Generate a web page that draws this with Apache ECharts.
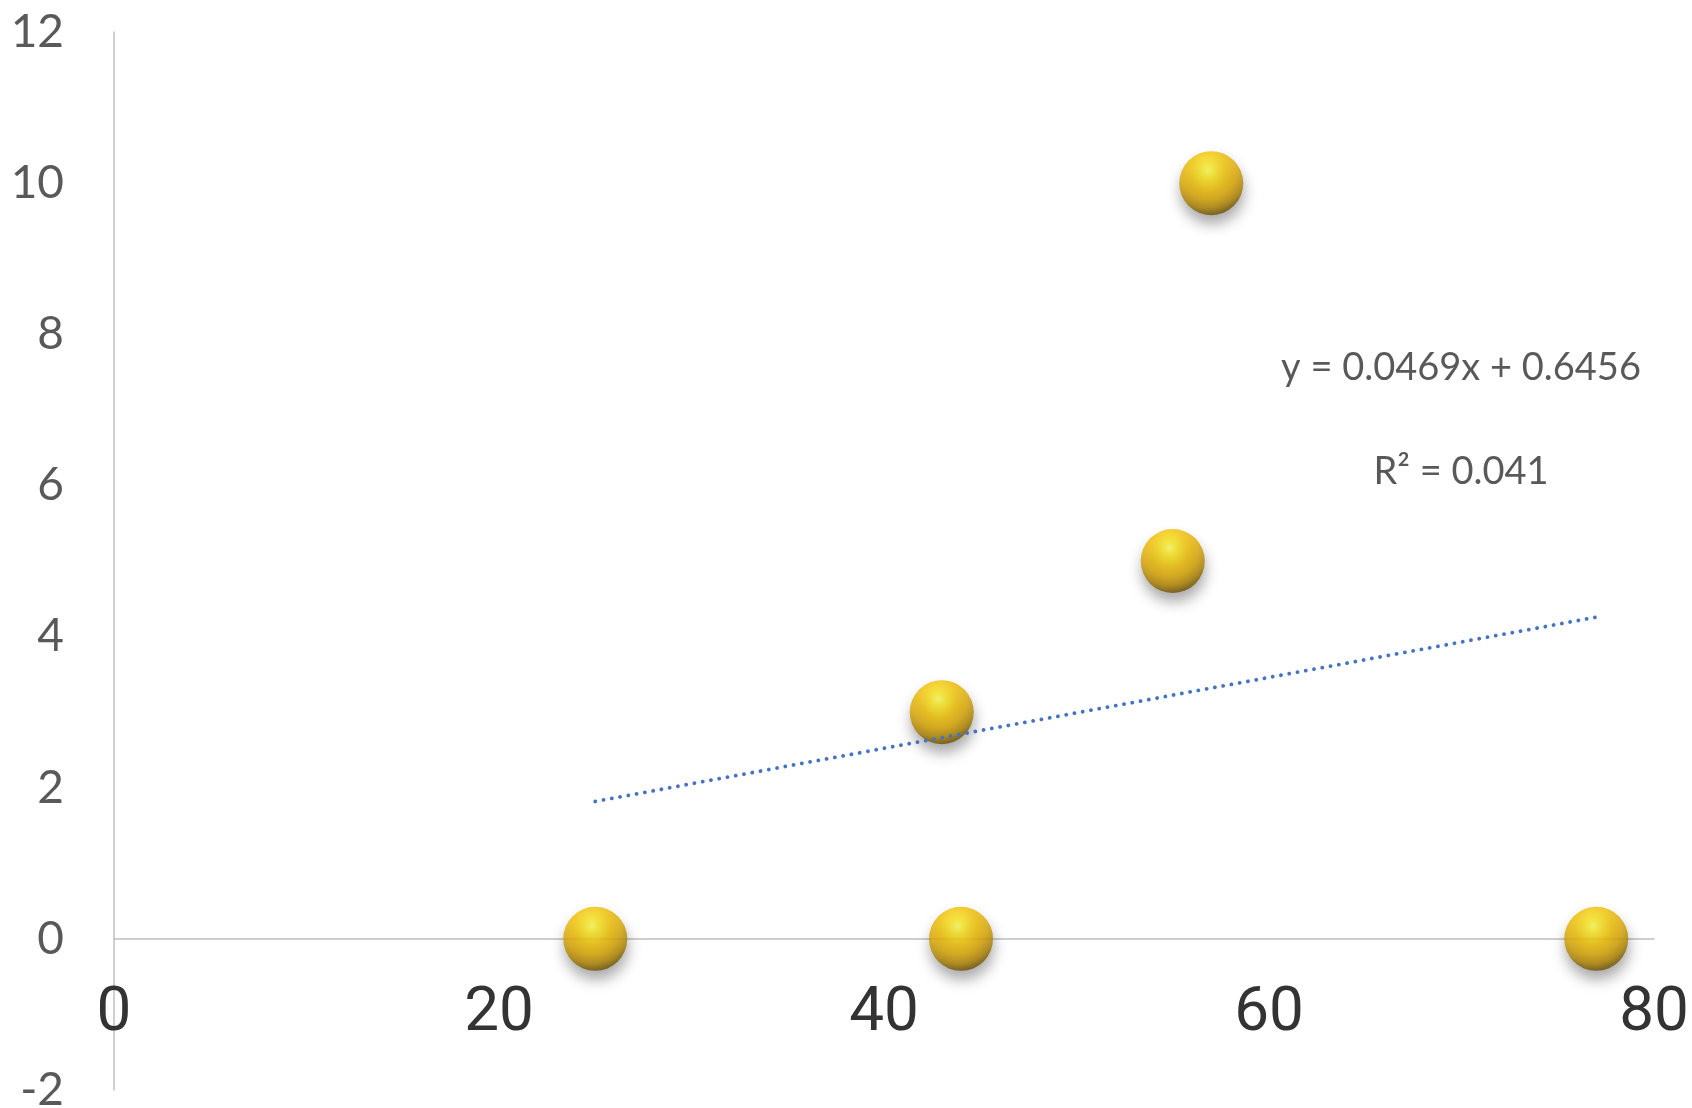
<!DOCTYPE html>
<html>
<head>
<meta charset="utf-8">
<script src="https://cdn.jsdelivr.net/npm/echarts@6/dist/echarts.min.js"></script>
<style>
  html, body { margin: 0; padding: 0; background: #ffffff; }
  #chart { width: 1692px; height: 1108px; }
</style>
</head>
<body>
<div id="chart"></div>
<script>
// Observations
const xValues = [25, 44, 77, 43, 55, 57];
const yValues = [0, 0, 0, 3, 5, 10];

// Linear trend fit shown beside the points
const trendSlope = 0.0469;
const trendIntercept = 0.6456;
const trendR2 = 0.041;

// Axis ranges: [min, max, interval]
const xAxisRange = [0, 80, 20];
const yAxisRange = [-2, 12, 2];

const points = xValues.map((x, i) => [x, yValues[i]]);
const xMin = Math.min(...xValues);
const xMax = Math.max(...xValues);
const trendLine = [xMin, xMax].map(x => [x, trendSlope * x + trendIntercept]);

// Plot area layout
const W = 1692, H = 1108;
const gridBox = { left: 114, right: 38, top: 32, bottom: 18 };
const plotHeight = H - gridBox.top - gridBox.bottom;
// The horizontal axis sits at y = 0, so lift it from the bottom edge accordingly
const xAxisLift = plotHeight * (0 - yAxisRange[0]) / (yAxisRange[1] - yAxisRange[0]);

// Glossy gold sphere shading
const ballFill = {
  type: 'radial', x: 0.45, y: 0.3, r: 0.75,
  colorStops: [
    { offset: 0.0, color: '#ffff62' },
    { offset: 0.12, color: '#ffee22' },
    { offset: 0.38, color: '#f2c200' },
    { offset: 0.6, color: '#dca700' },
    { offset: 0.78, color: '#b08400' },
    { offset: 0.92, color: '#705200' },
    { offset: 1.0, color: '#4a3600' }
  ]
};

const chart = echarts.init(document.getElementById('chart'), null, { renderer: 'canvas' });

chart.setOption({
  backgroundColor: '#ffffff',
  animation: false,
  grid: Object.assign({ containLabel: false, outerBoundsMode: 'none' }, gridBox),
  xAxis: {
    type: 'value',
    position: 'bottom',
    offset: -xAxisLift,
    min: xAxisRange[0], max: xAxisRange[1], interval: xAxisRange[2],
    axisLine: { show: true, onZero: false, lineStyle: { color: '#bfbfbf', width: 1.5 } },
    axisTick: { show: false },
    splitLine: { show: false },
    axisLabel: {
      color: '#333333', fontFamily: 'Roboto', fontSize: 62, margin: 45,
      showMinLabel: true, showMaxLabel: true
    }
  },
  yAxis: {
    type: 'value',
    min: yAxisRange[0], max: yAxisRange[1], interval: yAxisRange[2],
    axisLine: { show: true, onZero: false, lineStyle: { color: '#bfbfbf', width: 1.5 } },
    axisTick: { show: false },
    splitLine: { show: false },
    axisLabel: {
      color: '#595959', fontFamily: 'Lato', fontSize: 46, margin: 50,
      showMinLabel: true, showMaxLabel: true
    }
  },
  series: [
    {
      type: 'scatter',
      data: points,
      symbol: 'circle',
      symbolSize: 64,
      z: 2,
      itemStyle: {
        color: ballFill,
        shadowColor: 'rgba(0,0,0,0.42)',
        shadowBlur: 14,
        shadowOffsetX: 1,
        shadowOffsetY: 9
      }
    },
    {
      type: 'line',
      data: trendLine,
      symbol: 'none',
      z: 5,
      lineStyle: { color: '#4472c4', width: 3.8, type: [0.1, 8.3], cap: 'round' }
    }
  ],
  graphic: [
    {
      type: 'text', x: 1461, y: 368,
      style: {
        text: 'y = ' + trendSlope.toFixed(4) + 'x + ' + trendIntercept.toFixed(4),
        fill: '#595959', font: '38px Lato', align: 'center', verticalAlign: 'middle'
      }
    },
    {
      type: 'text', x: 1461, y: 472,
      style: {
        text: 'R\u00B2 = ' + trendR2.toFixed(3),
        fill: '#595959', font: '38px Lato', align: 'center', verticalAlign: 'middle'
      }
    }
  ]
});
</script>
</body>
</html>
